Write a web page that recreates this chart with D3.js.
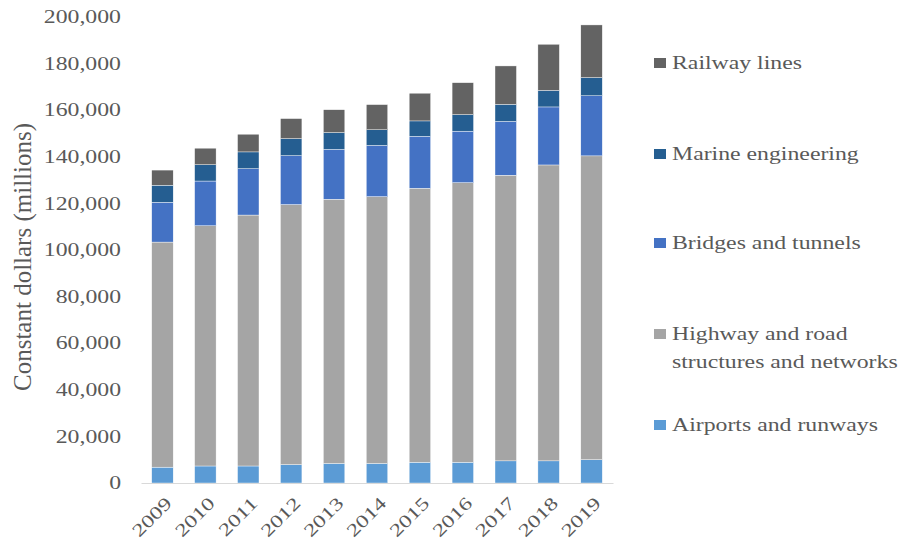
<!DOCTYPE html>
<html>
<head>
<meta charset="utf-8">
<script src="https://cdn.jsdelivr.net/npm/d3@7"></script>
<style>
  body { margin: 0; background: #fff; }
  text { font-family: "Liberation Serif", "Times New Roman", serif; fill: #595959; }
</style>
</head>
<body>
<div class="graph"></div>
<script>
// Data (millions of constant dollars)
var years = ["2009","2010","2011","2012","2013","2014","2015","2016","2017","2018","2019"];
var airports = [6800, 7300, 7300, 7900, 8400, 8400, 8900, 8900, 9500, 9500, 10000];
var highway  = [96600, 103100, 107700, 111600, 113400, 114500, 117600, 120000, 122600, 127000, 130400];
var bridges  = [17100, 19200, 19900, 21000, 21400, 22000, 22300, 22100, 23100, 24900, 25800];
var marine   = [7300, 7000, 7200, 7300, 7200, 6700, 6600, 7100, 7300, 7100, 7800];
var railway  = [6500, 7100, 7600, 8600, 9800, 10800, 11900, 13700, 16500, 19800, 22600];
var yTicks = [0, 20000, 40000, 60000, 80000, 100000, 120000, 140000, 160000, 180000, 200000];

var seriesNames = ["Airports and runways", "Highway and road structures and networks",
                   "Bridges and tunnels", "Marine engineering", "Railway lines"];
var seriesValues = [airports, highway, bridges, marine, railway];
var colors = ["#5b9bd5", "#a5a5a5", "#4472c4", "#255e91", "#636363"];

// Configuration
var W = 903, H = 548;
var plot = {left: 141, right: 613, top: 17, bottom: 483};
var stretchK = 1.32;   // the reference text is set wide

var svg = d3.select(".graph").append("svg")
    .attr("width", W)
    .attr("height", H);

// build rows for d3.stack
var rows = years.map(function(yr, i) {
  var r = {year: yr};
  seriesNames.forEach(function(s, j) { r[s] = seriesValues[j][i]; });
  return r;
});
var stacked = d3.stack().keys(seriesNames)(rows);

// Scales
var x = d3.scaleBand()
    .domain(years)
    .range([plot.left, plot.right])
    .paddingInner(0.5)
    .paddingOuter(0.25);
var y = d3.scaleLinear()
    .domain([0, 200000])
    .range([plot.bottom, plot.top]);
var color = d3.scaleOrdinal().domain(seriesNames).range(colors);

function stretch(sel, k) {
  sel.each(function() {
    var w = this.getComputedTextLength();
    d3.select(this).attr("textLength", w * k).attr("lengthAdjust", "spacingAndGlyphs");
  });
}

// Bars
svg.append("g").selectAll("g")
    .data(stacked)
    .enter().append("g")
    .attr("fill", function(d) { return color(d.key); })
  .selectAll("rect")
    .data(function(d) { return d; })
    .enter().append("rect")
    .attr("x", function(d) { return x(d.data.year); })
    .attr("y", function(d) { return y(d[1]); })
    .attr("height", function(d) { return y(d[0]) - y(d[1]); })
    .attr("width", x.bandwidth())
    .attr("stroke", "#fff")
    .attr("stroke-width", 0.4);

// X axis
var xAxis = svg.append("g")
    .attr("transform", "translate(0," + plot.bottom + ")")
    .call(d3.axisBottom(x).tickSize(0).tickSizeOuter(0));
xAxis.select(".domain").attr("stroke", "#d9d9d9").attr("stroke-width", 1.2);
xAxis.selectAll("text")
    .attr("font-size", 18)
    .attr("fill", "#595959")
    .attr("text-anchor", "end")
    .attr("dy", "0.35em")
    .attr("y", 0)
    .attr("x", 0)
    .attr("transform", "translate(6,17) rotate(-45)")
    .call(stretch, stretchK);

// Y axis (labels only)
var yAxis = svg.append("g")
    .attr("transform", "translate(" + plot.left + ",0)")
    .call(d3.axisLeft(y).tickValues(yTicks).tickSize(0).tickPadding(20)
      .tickFormat(d3.format(",")));
yAxis.select(".domain").remove();
yAxis.selectAll("text")
    .attr("font-size", 18)
    .attr("fill", "#595959")
    .call(stretch, stretchK);

// Y title
svg.append("text")
    .attr("transform", "translate(31,257) rotate(-90)")
    .attr("text-anchor", "middle")
    .attr("font-size", 25)
    .text("Constant dollars (millions)");

// Legend
var legendY = {"Railway lines": 63, "Marine engineering": 154, "Bridges and tunnels": 243,
               "Highway and road structures and networks": 334, "Airports and runways": 425};
var legendLines = {"Highway and road structures and networks": ["Highway and road", "structures and networks"]};
var legend = svg.append("g").selectAll("g")
    .data(seriesNames.slice().reverse())
    .enter().append("g")
    .attr("transform", function(d) { return "translate(654," + legendY[d] + ")"; });
legend.append("rect")
    .attr("x", 0).attr("y", -5)
    .attr("width", 12).attr("height", 10)
    .attr("fill", function(d) { return color(d); });
legend.each(function(d) {
  var lines = legendLines[d] || [d];
  var g = d3.select(this);
  lines.forEach(function(t, i) {
    g.append("text")
      .attr("x", 18)
      .attr("y", i * 28)
      .attr("dy", "0.35em")
      .attr("font-size", 18)
      .text(t)
      .call(stretch, stretchK);
  });
});
</script>
</body>
</html>
